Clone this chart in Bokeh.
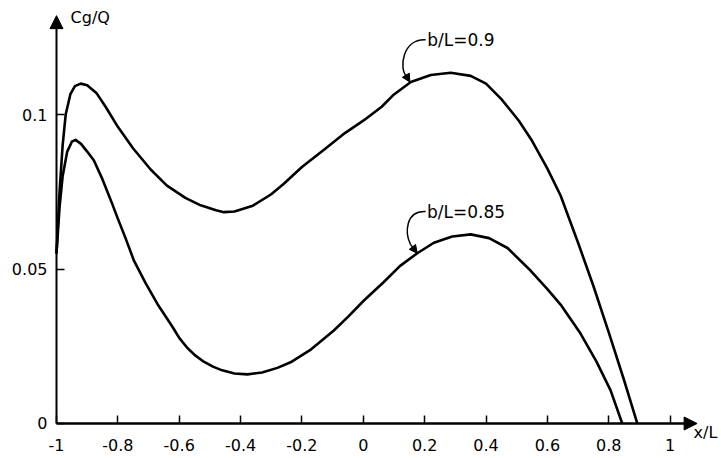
from bokeh.plotting import figure
from bokeh.models import Arrow, NormalHead, Label, FixedTicker, Range1d
from bokeh.embed import file_html
from bokeh.resources import INLINE

# ---- data ----
x_ticks = [-1.0, -0.8, -0.6, -0.4, -0.2, 0.0, 0.2, 0.4, 0.6, 0.8, 1.0]
x_tick_labels = ["-1", "-0.8", "-0.6", "-0.4", "-0.2", "0", "0.2", "0.4", "0.6", "0.8", "1"]
y_ticks = [0.0, 0.05, 0.1]
y_tick_labels = ["0", "0.05", "0.1"]

# b/L = 0.9 (upper curve)
x_090 = [-1.0, -0.99, -0.98, -0.97, -0.955, -0.94, -0.921, -0.90, -0.87, -0.84,
         -0.80, -0.75, -0.693, -0.64, -0.58, -0.53, -0.48, -0.454, -0.42, -0.36,
         -0.30, -0.259, -0.20, -0.123, -0.06, 0.0, 0.06, 0.10, 0.155, 0.22,
         0.285, 0.35, 0.40, 0.45, 0.507, 0.55, 0.60, 0.643, 0.70, 0.75,
         0.80, 0.85, 0.893]
y_090 = [0.055, 0.075, 0.090, 0.100, 0.1065, 0.1092, 0.1100, 0.1095, 0.1070, 0.1025,
         0.0960, 0.0890, 0.0822, 0.0770, 0.0730, 0.0706, 0.0690, 0.0684, 0.0686, 0.0705,
         0.0742, 0.0776, 0.0830, 0.0890, 0.0940, 0.0980, 0.1025, 0.1065, 0.1105, 0.1128,
         0.1135, 0.1125, 0.1100, 0.1050, 0.0980, 0.0915, 0.0825, 0.0738, 0.0585, 0.0445,
         0.0295, 0.0140, 0.0]

# b/L = 0.85 (lower curve)
x_085 = [-1.0, -0.99, -0.98, -0.965, -0.95, -0.938, -0.92, -0.90, -0.878, -0.85,
         -0.818, -0.802, -0.775, -0.748, -0.71, -0.671, -0.62, -0.60, -0.574, -0.55,
         -0.52, -0.49, -0.46, -0.42, -0.378, -0.33, -0.28, -0.237, -0.17, -0.096,
         -0.05, 0.002, 0.066, 0.12, 0.176, 0.23, 0.29, 0.35, 0.41, 0.47,
         0.545, 0.60, 0.643, 0.708, 0.76, 0.806, 0.844]
y_085 = [0.055, 0.070, 0.080, 0.088, 0.0912, 0.0918, 0.0905, 0.0880, 0.0851, 0.0790,
         0.0710, 0.0668, 0.0600, 0.0528, 0.0455, 0.0387, 0.0310, 0.0277, 0.0245, 0.0222,
         0.0200, 0.0184, 0.0172, 0.0162, 0.0159, 0.0165, 0.0180, 0.0198, 0.0240, 0.0301,
         0.0345, 0.0398, 0.0457, 0.0510, 0.0551, 0.0585, 0.0605, 0.0612, 0.0600, 0.0568,
         0.0495, 0.0435, 0.0385, 0.0291, 0.0200, 0.0107, 0.0]

series_labels = ["b/L=0.9", "b/L=0.85"]

FONT = "DejaVu Sans"

p = figure(width=721, height=458, output_backend="svg", toolbar_location=None,
           x_range=Range1d(-1.1825, 1.1675), y_range=Range1d(-0.01133, 0.1369),
           min_border_left=0, min_border_right=0, min_border_top=0, min_border_bottom=0,
           background_fill_color="white", border_fill_color="white")
p.outline_line_color = None
p.grid.visible = False

# axes: ticks inward, custom arrow lines, axes fixed at x=-1 and y=0
p.xaxis.fixed_location = 0.0
p.yaxis.fixed_location = -1.0
p.xaxis.ticker = FixedTicker(ticks=x_ticks, minor_ticks=[])
p.xaxis.major_label_overrides = {t: s for t, s in zip(x_ticks, x_tick_labels)}
p.yaxis.ticker = FixedTicker(ticks=y_ticks, minor_ticks=[])
p.yaxis.major_label_overrides = {t: s for t, s in zip(y_ticks, y_tick_labels)}
for ax in (p.xaxis, p.yaxis):
    ax.axis_line_color = None
    ax.major_tick_in = 8
    ax.major_tick_out = 0
    ax.minor_tick_line_color = None
    ax.major_tick_line_color = "black"
    ax.major_tick_line_width = 1.5
    ax.major_label_text_font = FONT
    ax.major_label_text_font_size = "16px"
    ax.major_label_text_color = "black"
p.xaxis.major_label_standoff = 16
p.yaxis.major_label_standoff = 9

p.add_layout(Arrow(x_start=-1.0, y_start=0.0, x_end=1.088, y_end=0.0,
                   line_width=2.5, line_color="black",
                   end=NormalHead(size=13, fill_color="black", line_color="black")))
p.add_layout(Arrow(x_start=-1.0, y_start=0.0, x_end=-1.0, y_end=0.132,
                   line_width=2.0, line_color="black",
                   end=NormalHead(size=13, fill_color="black", line_color="black")))

# curves
p.line(x_090, y_090, line_width=2.6, line_color="black", line_join="round")
p.line(x_085, y_085, line_width=2.6, line_color="black", line_join="round")

# axis titles
p.add_layout(Label(x=-0.954, y=0.1314, text="Cg/Q", text_font=FONT, text_font_size="16px",
                   text_baseline="middle", text_align="left", text_color="black"))
p.add_layout(Label(x=1.0766, y=-0.0029, text="x/L", text_font=FONT, text_font_size="16px",
                   text_baseline="middle", text_align="left", text_color="black"))

# curve labels with curved arrows
p.add_layout(Label(x=0.2086, y=0.124, text=series_labels[0], text_font=FONT, text_font_size="17px",
                   text_baseline="middle", text_align="left", text_color="black"))
p.add_layout(Label(x=0.2077, y=0.0686, text=series_labels[1], text_font=FONT, text_font_size="17px",
                   text_baseline="middle", text_align="left", text_color="black"))

p.bezier(x0=[0.2031, 0.2031], y0=[0.1242, 0.0686],
         cx0=[0.1281, 0.1378], cy0=[0.1246, 0.0689],
         cx1=[0.1150, 0.1346], cy1=[0.1149, 0.0618],
         x1=[0.1411, 0.1542], y1=[0.1123, 0.0579],
         line_width=1.5, line_color="black")
p.add_layout(Arrow(x_start=0.1411, y_start=0.1123, x_end=0.1519, y_end=0.1105,
                   line_width=1.5, line_color="black",
                   end=NormalHead(size=8, fill_color="black", line_color="black")))
p.add_layout(Arrow(x_start=0.1542, y_start=0.0579, x_end=0.1760, y_end=0.0551,
                   line_width=1.5, line_color="black",
                   end=NormalHead(size=8, fill_color="black", line_color="black")))

open("out.html", "w").write(file_html(p, INLINE))
